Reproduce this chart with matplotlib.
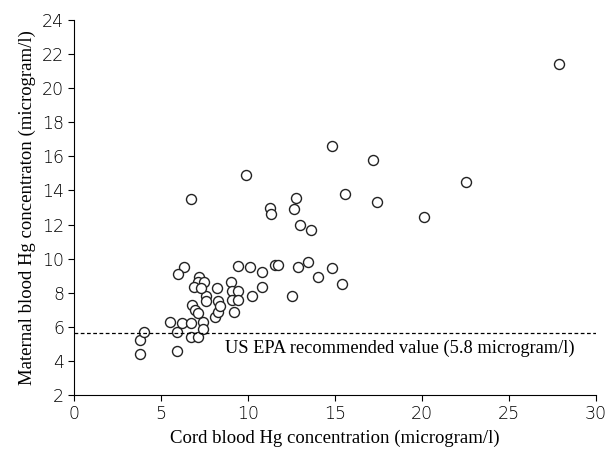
import matplotlib.pyplot as plt

# Cord vs maternal blood Hg (microgram/l)
cord = [3.8, 3.8, 4.0, 5.9, 5.5, 5.9, 6.2, 6.7, 6.7, 7.1, 7.4, 7.4,
        6.8, 6.95, 7.1, 7.6, 7.6, 8.1, 8.25, 8.3, 8.4, 8.2, 7.2, 7.1,
        7.45, 6.9, 7.3, 6.3, 6.0, 9.0, 9.1, 9.4, 9.1, 9.4, 9.2, 9.4,
        10.1, 10.8, 10.8, 10.25, 11.55, 11.7, 12.9, 13.45, 14.0, 14.8, 15.4, 12.5,
        6.75, 9.9, 12.75, 11.25, 11.3, 12.65, 15.6, 17.4, 13.0, 13.6,
        17.2, 22.5, 20.1, 27.9, 14.8]
maternal = [4.4, 5.2, 5.7, 4.6, 6.3, 5.7, 6.2, 6.2, 5.4, 5.4, 6.3, 5.9,
            7.3, 7.0, 6.8, 7.8, 7.5, 6.6, 6.85, 7.5, 7.2, 8.25, 8.9, 8.65,
            8.65, 8.35, 8.3, 9.5, 9.1, 8.6, 8.1, 8.1, 7.6, 7.6, 6.85, 9.55,
            9.5, 9.2, 8.35, 7.8, 9.65, 9.6, 9.5, 9.8, 8.95, 9.45, 8.5, 7.8,
            13.5, 14.9, 13.55, 12.95, 12.6, 12.9, 13.8, 13.3, 12.0, 11.7,
            15.8, 14.5, 12.45, 21.4, 16.6]
epa_limit = 5.65
x_ticks = [0, 5, 10, 15, 20, 25, 30]
y_ticks = [2, 4, 6, 8, 10, 12, 14, 16, 18, 20, 22, 24]

fig = plt.figure(figsize=(6.08, 4.58), dpi=100)
ax = fig.add_axes([0.1217, 0.1376, 0.8586, 0.8187])

ax.plot(cord, maternal, 'o', markersize=7.2, markerfacecolor='white',
        markeredgecolor='#222222', markeredgewidth=1.0, linestyle='none')

ax.axhline(epa_limit, color='black', linestyle=(0, (3, 2)), linewidth=0.9)
ax.text(8.7, 4.75, 'US EPA recommended value (5.8 microgram/l)',
        family='Liberation Serif', fontsize=13.2, va='center', ha='left')

ax.set_xlim(0, 30)
ax.set_ylim(2, 24)
ax.set_xticks(x_ticks)
ax.set_yticks(y_ticks)
ax.spines['top'].set_visible(False)
ax.spines['right'].set_visible(False)
ax.tick_params(direction='out', length=4, labelsize=12.5, pad=3)
for lbl in ax.get_xticklabels() + ax.get_yticklabels():
    lbl.set_family('DejaVu Sans')
    lbl.set_fontweight('light')

ax.set_xlabel('Cord blood Hg concentration (microgram/l)',
              family='Liberation Serif', fontsize=13.5, labelpad=5)
ax.set_ylabel('Maternal blood Hg concentraton (microgram/l)',
              family='Liberation Serif', fontsize=13.5, labelpad=4)

fig.savefig('out.png', dpi=100)
